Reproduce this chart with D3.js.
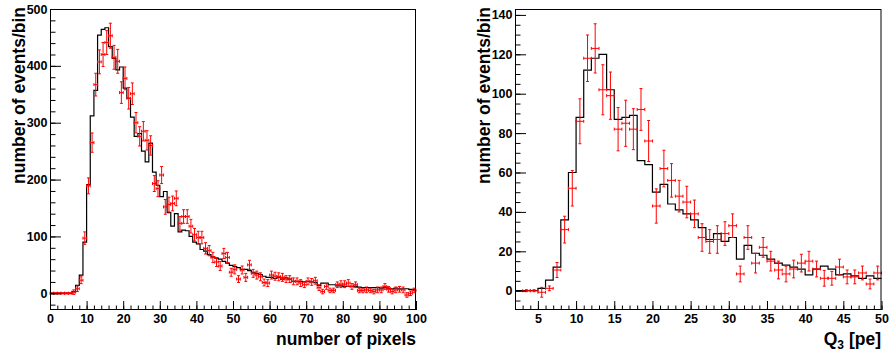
<!DOCTYPE html>
<html>
<head>
<meta charset="utf-8">
<script src="https://cdn.jsdelivr.net/npm/d3@7"></script>
<style>
  body { margin: 0; background: #fff; }
  text { font-family: "Liberation Sans", Arial, Helvetica, sans-serif; font-weight: bold; }
</style>
</head>
<body>
<div id="chart"></div>
<script>
'use strict';

// left panel: number of pixels, bins of width 1 from 0 to 100
const pixBinLow = d3.range(0, 100);
const pixSim = [0,0,0,0,0,0,3,14,32,90,191,312,357,454,464,467,434,413,393,398,
  361,343,310,276,281,250,231,264,213,190,170,179,142,118,140,108,111,110,100,90,
  87,77,74,68,64,62,60,56,53,49,47,45,42,42,40,37,35,33,30,28,
  28,26,28,25,27,25,21,21,21,20,21,20,19,14,18,18,15,15,13,13,
  12,12,12,12,11,10,10,10,10,10,9,10,9,8,9,8,8,8,7,7];
const pixData = [0,0,0,0,0,0,2,8,23,97,189,265,367,407,420,441,453,415,408,353,
  378,343,351,300,276,285,269,260,193,184,208,152,156,158,167,123,135,135,118,103,
  98,98,79,75,63,55,48,70,63,37,42,25,41,28,50,35,32,29,19,18,
  32,30,29,28,25,25,21,21,18,15,21,20,22,10,3,12,5,5,15,16,
  16,18,12,15,5,5,6,5,3,6,6,12,7,3,6,7,6,-3,0,5];
const pixErr = [1,1,1,1,1,1,4,5,6,11,14,17,20,21,21,21,22,21,21,19,
  20,19,19,18,17,17,17,17,14,14,15,13,13,13,13,12,12,12,12,11,
  11,11,10,9,9,8,8,9,9,7,8,6,7,7,8,7,7,7,6,6,
  7,7,7,7,6,6,6,6,6,5,6,6,6,5,4,5,4,4,5,6,
  6,6,5,5,4,4,5,4,4,5,5,5,5,4,5,5,5,4,4,4];
const pixXTicks = [0,10,20,30,40,50,60,70,80,90,100];
const pixYTicks = [0,100,200,300,400,500];

// right panel: Q3 in pe, bins of width 1 from 2 to 50
const q3BinLow = d3.range(2, 50);
const q3Sim = [0,0,0,1.2,5.4,12,36,60,88,112,118,120,102,87,88,89,66,64,50,54,
  44,41,39,36,32,26,29,25,27,16,23,19,18,16,14,13,12,11,8,11,
  12.5,11,8,8.5,7.5,6.3,7.5,6.3];
const q3Data = [null,0,0,-0.8,1.2,10.5,31,52,86,118,123,102,99,82,85,82,92,76,43,62,
  56,48,45,39,27,25,26,29,33,8.5,27,14,22,15,10.5,8.5,11,14,15,11,
  6.3,6.3,12,7,7,9,3.4,9];
const q3Err = [null,0.5,0.5,2.5,1.2,3.8,6.8,9,11.4,11.8,12.5,12.7,12,11,11.7,10.4,10.6,10.4,8.7,9.3,
  8.5,8,8,7,7,6,7,6,6,4,6,5,5,5,4.5,4,4.5,4.5,5,4,
  4,3.5,4,3.5,3.5,3.5,2.5,3.5];
const q3XTicks = [5,10,15,20,25,30,35,40,45,50];
const q3YTicks = [0,20,40,60,80,100,120,140];

let svg = d3.select('#chart').append('svg')
  .attr('width', 893)
  .attr('height', 356);

svg.append('rect').attr('width', 893).attr('height', 356).attr('fill', '#fff');

function drawAxes(g, xScale, yScale, xMajor, xMinor, yMajor, yMinor) {
  let top = yScale.range()[1];
  let bottom = yScale.range()[0];
  let left = xScale.range()[0];

  g.append('g')
    .attr('transform', 'translate(0,' + bottom + ')')
    .call(d3.axisBottom(xScale).tickValues(xMinor).tickSize(-4.5).tickFormat(''));
  g.append('g')
    .attr('transform', 'translate(0,' + bottom + ')')
    .call(d3.axisBottom(xScale).tickValues(xMajor).tickSize(-9).tickPadding(4).tickFormat(d3.format('d')));
  g.append('g')
    .attr('transform', 'translate(' + left + ',0)')
    .call(d3.axisLeft(yScale).tickValues(yMinor).tickSize(-5.5).tickFormat(''));
  g.append('g')
    .attr('transform', 'translate(' + left + ',0)')
    .call(d3.axisLeft(yScale).tickValues(yMajor).tickSize(-11).tickPadding(2.5).tickFormat(d3.format('d')));

  g.selectAll('.domain').remove();
  g.selectAll('.tick text')
    .attr('font-family', null)
    .attr('font-size', 12.5)
    .attr('fill', '#000');

  g.append('rect')
    .attr('x', left + 0.5)
    .attr('y', top + 0.5)
    .attr('width', xScale.range()[1] - left - 1)
    .attr('height', bottom - top - 1)
    .attr('fill', 'none')
    .attr('stroke', '#000')
    .attr('stroke-width', 1);
}

function drawHist(g, xScale, yScale, binLow, sim, data, err) {
  let pts = binLow.map((b, i) => [b, sim[i]]);
  pts.push([binLow[binLow.length - 1] + 1, sim[sim.length - 1]]);

  let line = d3.line()
    .x(d => xScale(d[0]))
    .y(d => yScale(d[1]))
    .curve(d3.curveStepAfter);

  g.append('path')
    .datum(pts)
    .attr('d', line)
    .attr('fill', 'none')
    .attr('stroke', '#000')
    .attr('stroke-width', 1.2);

  let points = binLow.map((b, i) => ({lo: b, v: data[i], e: err[i]}))
    .filter(d => d.v !== null);

  let cap = 1.5;
  let bars = g.append('g')
    .attr('stroke', '#ff0000')
    .attr('stroke-width', 1)
    .attr('fill', 'none');

  let pg = bars.selectAll('.pt')
    .data(points)
    .enter()
    .append('g')
    .attr('class', 'pt');

  pg.append('line')
    .attr('x1', d => xScale(d.lo))
    .attr('x2', d => xScale(d.lo + 1))
    .attr('y1', d => yScale(d.v))
    .attr('y2', d => yScale(d.v));
  pg.append('line')
    .attr('x1', d => xScale(d.lo + 0.5))
    .attr('x2', d => xScale(d.lo + 0.5))
    .attr('y1', d => yScale(d.v - d.e))
    .attr('y2', d => yScale(d.v + d.e));
  // end caps
  pg.append('line')
    .attr('x1', d => xScale(d.lo + 0.5) - cap)
    .attr('x2', d => xScale(d.lo + 0.5) + cap)
    .attr('y1', d => yScale(d.v + d.e))
    .attr('y2', d => yScale(d.v + d.e));
  pg.append('line')
    .attr('x1', d => xScale(d.lo + 0.5) - cap)
    .attr('x2', d => xScale(d.lo + 0.5) + cap)
    .attr('y1', d => yScale(d.v - d.e))
    .attr('y2', d => yScale(d.v - d.e));
  pg.append('line')
    .attr('x1', d => xScale(d.lo))
    .attr('x2', d => xScale(d.lo))
    .attr('y1', d => yScale(d.v) - cap)
    .attr('y2', d => yScale(d.v) + cap);
  pg.append('line')
    .attr('x1', d => xScale(d.lo + 1))
    .attr('x2', d => xScale(d.lo + 1))
    .attr('y1', d => yScale(d.v) - cap)
    .attr('y2', d => yScale(d.v) + cap);
}

// left panel
let xPix = d3.scaleLinear().domain([0, 100]).range([50, 416]);
let yPix = d3.scaleLinear().domain([-29.4, 500]).range([310, 9]);
let gLeft = svg.append('g');
drawHist(gLeft, xPix, yPix, pixBinLow, pixSim, pixData, pixErr);
drawAxes(gLeft, xPix, yPix, pixXTicks, d3.range(0, 101, 2), pixYTicks, d3.range(-20, 501, 20));

gLeft.append('text')
  .attr('x', 416)
  .attr('y', 345)
  .attr('text-anchor', 'end')
  .style('font-size', '17.5px')
  .text('number of pixels');
gLeft.append('text')
  .attr('transform', 'translate(25,7)rotate(-90)')
  .attr('text-anchor', 'end')
  .style('font-size', '17.5px')
  .text('number of events/bin');

// right panel
let xQ = d3.scaleLinear().domain([2, 50]).range([515, 881.5]);
let yQ = d3.scaleLinear().domain([-9.8, 143]).range([310, 9]);
let gRight = svg.append('g');
drawHist(gRight, xQ, yQ, q3BinLow, q3Sim, q3Data, q3Err);
drawAxes(gRight, xQ, yQ, q3XTicks, d3.range(3, 51, 1), q3YTicks, d3.range(-5, 143, 5));

let qt = gRight.append('text')
  .attr('x', 881)
  .attr('y', 345)
  .attr('text-anchor', 'end')
  .style('font-size', '17.5px');
qt.append('tspan').text('Q');
qt.append('tspan').attr('dy', 4).style('font-size', '12px').text('3');
qt.append('tspan').attr('dy', -4).text(' [pe]');

gRight.append('text')
  .attr('transform', 'translate(490,7)rotate(-90)')
  .attr('text-anchor', 'end')
  .style('font-size', '17.5px')
  .text('number of events/bin');
</script>
</body>
</html>
